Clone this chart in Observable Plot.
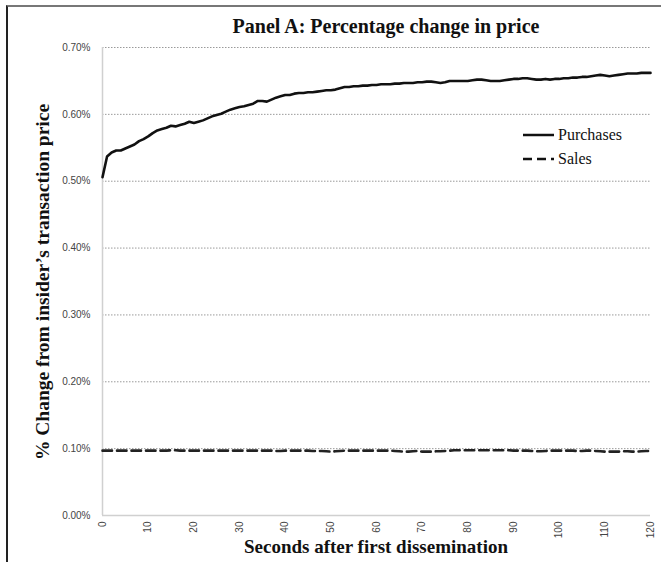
<!DOCTYPE html>
<html><head><meta charset="utf-8">
<script src="https://cdn.jsdelivr.net/npm/d3@7"></script>
<script src="https://cdn.jsdelivr.net/npm/@observablehq/plot@0.6"></script>
<style>
html,body{margin:0;padding:0;background:#fff;}
#wrap{position:relative;width:661px;height:562px;overflow:hidden;background:#fff;}
#frame{position:absolute;left:6px;top:5px;width:700px;height:600px;border-left:2px solid #222;border-top:2px solid #777;box-sizing:border-box;}
#title{position:absolute;top:15px;left:102px;width:568px;text-align:center;font:bold 20px "Liberation Serif",serif;color:#111;}
#chart{position:absolute;top:40px;left:0;}
#ylab{position:absolute;left:43px;top:282px;transform:translate(-50%,-50%) rotate(-90deg);white-space:nowrap;font:bold 19.5px "Liberation Serif",serif;color:#111;}
#xlab{position:absolute;top:536px;left:102px;width:548px;text-align:center;font:bold 19px "Liberation Serif",serif;color:#111;}
#legend{position:absolute;left:523px;top:123px;font:16px "Liberation Serif",serif;color:#111;}
#legend div{height:24px;display:flex;align-items:center;}
#legend svg{margin-right:4px;}
</style></head>
<body><div id="wrap">
<div id="frame"></div>
<div id="title">Panel A: Percentage change in price</div>
<div id="chart"></div>
<div id="ylab">% Change from insider’s transaction price</div>
<div id="xlab">Seconds after first dissemination</div>
<div id="legend"></div>
</div>
<script>
const seconds = [0,1,2,3,4,5,6,7,8,9,10,11,12,13,14,15,16,17,18,19,20,21,22,23,24,25,26,27,28,29,30,31,32,33,34,35,36,37,38,39,40,41,42,43,44,45,46,47,48,49,50,51,52,53,54,55,56,57,58,59,60,61,62,63,64,65,66,67,68,69,70,71,72,73,74,75,76,77,78,79,80,81,82,83,84,85,86,87,88,89,90,91,92,93,94,95,96,97,98,99,100,101,102,103,104,105,106,107,108,109,110,111,112,113,114,115,116,117,118,119,120];
const purchases = [0.506,0.537,0.543,0.546,0.546,0.549,0.552,0.555,0.560,0.563,0.567,
0.572,0.576,0.578,0.580,0.583,0.582,0.584,0.586,0.589,0.587,
0.589,0.591,0.594,0.597,0.599,0.601,0.604,0.607,0.609,0.611,
0.612,0.614,0.616,0.620,0.620,0.619,0.622,0.625,0.627,0.629,
0.629,0.631,0.632,0.632,0.633,0.633,0.634,0.635,0.636,0.636,
0.637,0.639,0.641,0.641,0.642,0.642,0.643,0.643,0.644,0.644,
0.645,0.645,0.645,0.646,0.646,0.647,0.647,0.647,0.648,0.648,
0.649,0.649,0.648,0.647,0.648,0.650,0.650,0.650,0.650,0.650,
0.651,0.652,0.652,0.651,0.650,0.650,0.650,0.651,0.652,0.653,
0.653,0.654,0.654,0.653,0.652,0.652,0.653,0.652,0.653,0.653,
0.654,0.654,0.655,0.655,0.656,0.656,0.657,0.658,0.659,0.658,
0.657,0.658,0.659,0.660,0.661,0.661,0.661,0.662,0.662,0.662];
const sales = [0.097,0.097,0.097,0.097,0.097,0.097,0.097,0.097,0.097,0.097,0.097,
0.097,0.097,0.097,0.097,0.0975,0.0975,0.097,0.097,0.097,0.097,
0.097,0.097,0.097,0.097,0.097,0.097,0.097,0.097,0.097,0.097,
0.097,0.097,0.097,0.097,0.097,0.097,0.097,0.0965,0.0965,0.097,
0.097,0.097,0.097,0.097,0.097,0.0965,0.0965,0.0965,0.096,0.0955,
0.096,0.0965,0.097,0.097,0.097,0.097,0.097,0.097,0.097,0.097,
0.097,0.097,0.097,0.0965,0.096,0.0955,0.0955,0.096,0.0965,0.0955,
0.0955,0.0955,0.096,0.096,0.0965,0.097,0.0975,0.0975,0.0975,0.0975,
0.0975,0.0975,0.0975,0.0975,0.0975,0.0975,0.0975,0.0975,0.0975,0.097,
0.097,0.097,0.097,0.0965,0.096,0.096,0.0965,0.097,0.097,0.097,
0.097,0.097,0.097,0.0965,0.0965,0.097,0.097,0.0965,0.096,0.0955,
0.0955,0.0955,0.0955,0.096,0.096,0.0955,0.0955,0.096,0.0965,0.0965];
const yTicks = [0.1,0.2,0.3,0.4,0.5,0.6,0.7];
const yLabels = [0,0.1,0.2,0.3,0.4,0.5,0.6,0.7];
const xTicks = [0,10,20,30,40,50,60,70,80,90,100,110,120];
const seriesNames = ["Purchases","Sales"];

const purchaseData = seconds.map((s,i)=>({s, v: purchases[i]}));
const salesData = seconds.map((s,i)=>({s, v: sales[i]}));

const plot = Plot.plot({
  width: 661, height: 522,
  marginLeft: 102, marginRight: 11, marginTop: 7, marginBottom: 47,
  style: {background:"transparent", overflow:"visible", fontFamily:"'Liberation Sans', sans-serif", fontSize:"10px", color:"#444"},
  x: {domain:[0,120], label:null},
  y: {domain:[0,0.7], label:null},
  marks: [
    Plot.gridY(yTicks, {stroke:"#9a9a9a", strokeOpacity:1, strokeDasharray:"1.5,1.5", strokeWidth:1}),
    Plot.ruleY([0], {stroke:"#d0d0d0", strokeWidth:1.5}),
    Plot.ruleX([0], {stroke:"#d0d0d0", strokeWidth:1.5}),
    Plot.axisY(yLabels, {tickSize:0, tickPadding:12, tickFormat:d=>d.toFixed(2)+"%", label:null, fill:"#444"}),
    Plot.axisX(xTicks, {tickSize:0, tickPadding:6, tickRotate:-90, label:null, fill:"#444"}),
    Plot.line(salesData, {x:"s", y:"v", stroke:"#222", strokeWidth:2.6, strokeDasharray:"9.5,5"}),
    Plot.line(purchaseData, {x:"s", y:"v", stroke:"#111", strokeWidth:2.6})
  ]
});
document.getElementById("chart").appendChild(plot);

const legend = document.getElementById("legend");
seriesNames.forEach((name,i)=>{
  const row = document.createElement("div");
  const dash = i===0 ? "" : 'stroke-dasharray="9,5"';
  row.innerHTML = `<svg width="31" height="6"><line x1="0" x2="31" y1="3" y2="3" stroke="#111" stroke-width="2.5" ${dash}/></svg><span>${name}</span>`;
  legend.appendChild(row);
});
</script>
</body></html>
